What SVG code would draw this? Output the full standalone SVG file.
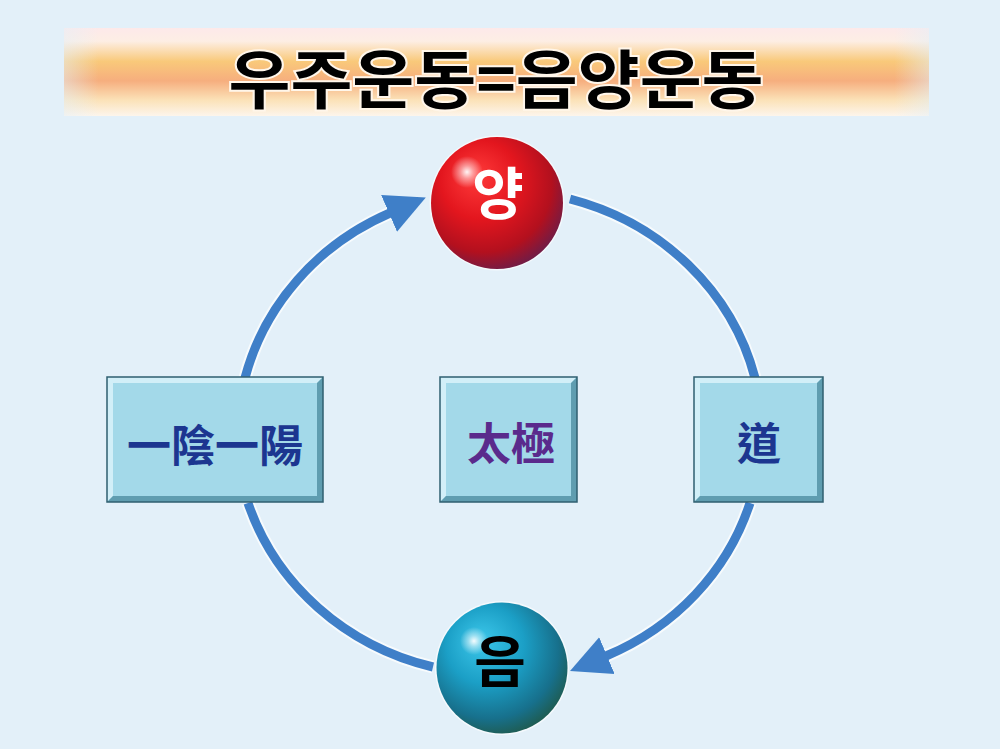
<svg xmlns="http://www.w3.org/2000/svg" width="1000" height="749" viewBox="0 0 1000 749">
<defs>
<style>
.box{fill:#a3d9e9}
.hl{fill:#d2eff8}
.sh{fill:#5f9db0}
.edge{fill:none;stroke:#2f5f70;stroke-width:1.5}
.arc{fill:none;stroke:#3f7fc8;stroke-width:9}
.halo{fill:none;stroke:#ffffff;stroke-opacity:0.7;stroke-width:13}
.hanja{font-family:"Noto Sans CJK TC","Noto Sans CJK JP",serif;font-weight:700;font-size:44px;text-anchor:middle}
.ko{font-family:"Noto Sans CJK KR",sans-serif;font-weight:700;text-anchor:middle}
</style>
<linearGradient id="banner" x1="0" y1="0" x2="0" y2="1">
<stop offset="0" stop-color="#fde9ea"/>
<stop offset="0.15" stop-color="#fdeee4"/>
<stop offset="0.38" stop-color="#f9c97a"/>
<stop offset="0.6" stop-color="#f6ae7e"/>
<stop offset="0.82" stop-color="#fbe2b8"/>
<stop offset="1" stop-color="#fdf5ec"/>
</linearGradient>
<linearGradient id="bannerFade" x1="0" y1="0" x2="1" y2="0">
<stop offset="0" stop-color="#e3f0f9" stop-opacity="0.5"/>
<stop offset="0.04" stop-color="#e3f0f9" stop-opacity="0"/>
<stop offset="0.96" stop-color="#e3f0f9" stop-opacity="0"/>
<stop offset="1" stop-color="#e3f0f9" stop-opacity="0.5"/>
</linearGradient>
<radialGradient id="red" cx="0.42" cy="0.38" r="0.66" fx="0.33" fy="0.28">
<stop offset="0" stop-color="#ff3b3b"/>
<stop offset="0.45" stop-color="#e3161e"/>
<stop offset="0.78" stop-color="#b3101e"/>
<stop offset="1" stop-color="#6a1d4a"/>
</radialGradient>
<radialGradient id="blue" cx="0.42" cy="0.38" r="0.66" fx="0.33" fy="0.28">
<stop offset="0" stop-color="#3cc7ea"/>
<stop offset="0.45" stop-color="#1b9fc6"/>
<stop offset="0.8" stop-color="#17708c"/>
<stop offset="1" stop-color="#1f5a4c"/>
</radialGradient>
<radialGradient id="spec">
<stop offset="0" stop-color="#ffffff" stop-opacity="0.95"/>
<stop offset="0.4" stop-color="#ffffff" stop-opacity="0.5"/>
<stop offset="1" stop-color="#ffffff" stop-opacity="0"/>
</radialGradient>
<marker id="ah" markerUnits="userSpaceOnUse" markerWidth="44" markerHeight="46" viewBox="0 -23 44 46" refX="1" refY="0" orient="auto">
<path d="M0,-20 L40,0 L0,20 Z" fill="#3f7fc8"/>
</marker>
</defs>
<rect width="1000" height="749" fill="#e3f0f9"/>

<g id="title">
<rect x="64" y="28" width="865" height="88" fill="url(#banner)"/>
<rect x="64" y="28" width="865" height="88" fill="url(#bannerFade)"/>
<text x="496" y="103" class="ko" font-size="64" fill="#000" stroke="#fff6ea" stroke-width="4" paint-order="stroke" textLength="535" lengthAdjust="spacingAndGlyphs">우주운동=음양운동</text>
</g>

<g id="connectors">
<path class="halo" d="M245,378 A262,247 0 0 1 390,213"/>
<path class="arc" d="M245,378 A262,247 0 0 1 390,213" marker-end="url(#ah)"/>
<path class="halo" d="M570,199 A262,247 0 0 1 755,378"/>
<path class="arc" d="M570,199 A262,247 0 0 1 755,378"/>
<path class="halo" d="M750,503 A262,247 0 0 1 606,656"/>
<path class="arc" d="M750,503 A262,247 0 0 1 606,656" marker-end="url(#ah)"/>
<path class="halo" d="M248,503 A262,247 0 0 0 433,667"/>
<path class="arc" d="M248,503 A262,247 0 0 0 433,667"/>
</g>

<g id="yang">
<circle cx="497" cy="203" r="67.5" fill="#ffffff" opacity="0.6"/>
<circle cx="497" cy="203" r="66" fill="url(#red)"/>
<circle cx="467" cy="172" r="16" fill="url(#spec)"/>
<text x="498" y="214" class="ko" font-size="56" fill="#ffffff">양</text>
</g>

<g id="eum">
<circle cx="502" cy="668" r="67" fill="#ffffff" opacity="0.6"/>
<circle cx="502" cy="668" r="65.5" fill="url(#blue)"/>
<circle cx="474" cy="641" r="14" fill="url(#spec)"/>
<text x="500" y="682" class="ko" font-size="56" fill="#000000">음</text>
</g>

<g id="box-yinyang">
<rect class="box" x="107" y="377" width="216" height="125"/>
<polygon class="hl" points="107,377 323,377 317,383 113,383 113,496 107,502"/>
<polygon class="sh" points="323,377 323,502 107,502 113,496 317,496 317,383"/>
<rect class="edge" x="107" y="377" width="216" height="125"/>
<text x="215" y="462" class="hanja" fill="#1c3690">一陰一陽</text>
</g>

<g id="box-taiji">
<rect class="box" x="440" y="377" width="137" height="125"/>
<polygon class="hl" points="440,377 577,377 571,383 446,383 446,496 440,502"/>
<polygon class="sh" points="577,377 577,502 440,502 446,496 571,496 571,383"/>
<rect class="edge" x="440" y="377" width="137" height="125"/>
<text x="511" y="460" class="hanja" fill="#5a2a8c">太極</text>
</g>

<g id="box-dao">
<rect class="box" x="694" y="377" width="129" height="125"/>
<polygon class="hl" points="694,377 823,377 817,383 700,383 700,496 694,502"/>
<polygon class="sh" points="823,377 823,502 694,502 700,496 817,496 817,383"/>
<rect class="edge" x="694" y="377" width="129" height="125"/>
<text x="759" y="460" class="hanja" fill="#1c3690">道</text>
</g>
</svg>
